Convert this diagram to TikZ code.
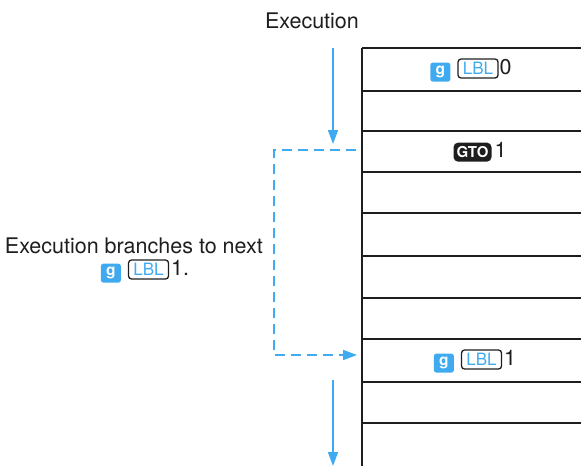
\documentclass[tikz,border=0pt]{standalone}
\usepackage{fontspec}
\setmainfont{TeX Gyre Heros}
\usetikzlibrary{arrows.meta}
\definecolor{hpblue}{RGB}{64,170,240}
\definecolor{ink}{RGB}{30,30,30}
\tikzset{
  rowline/.style={draw=ink, line width=1.5pt},
  flow/.style={draw=hpblue, line width=1.6pt, -{Triangle[length=14pt,width=10pt]}},
  dflow/.style={draw=hpblue, line width=1.6pt, dash pattern=on 10pt off 6pt},
  lbl/.style={font=\fontsize{21.5}{25}\selectfont, text=ink, inner sep=0pt},
  gkey/.style={fill=hpblue, rounded corners=2.5pt, text=white, minimum width=20pt, minimum height=19pt, inner sep=0pt, font=\fontsize{15.5}{15.5}\selectfont\bfseries},
  lblkey/.style={draw=ink, line width=1.3pt, rounded corners=3pt, text=hpblue, minimum width=40pt, minimum height=19pt, inner sep=0pt, font=\fontsize{17}{17}\selectfont},
  gtokey/.style={fill=ink, rounded corners=4.5pt, text=white, minimum width=38pt, minimum height=19pt, inner sep=0pt, font=\fontsize{15}{15}\selectfont\bfseries},
}
\newcommand{\gk}{\tikz[baseline=(k.base)]\node[gkey](k){g};}
\newcommand{\lk}{\tikz[baseline=(k.base)]\node[lblkey](k){LBL};}
\newcommand{\gtk}{\tikz[baseline=(k.base)]\node[gtokey](k){GTO};}
\begin{document}
\begin{tikzpicture}[x=1pt,y=-1pt]
\useasboundingbox (0,0) rectangle (581,466);
% table
\draw[rowline] (362,48) -- (362,466);
\foreach \yy in {48,91,131,172,213,256,298,339,382,423}{
  \draw[rowline] (362,\yy) -- (581,\yy);
}
% entries
\node[lbl] (r1) at (471,70) {\gk\hspace{7pt}\lk\hspace{1pt}0};
\node[lbl] (r3) at (480,152) {\gtk\hspace{3pt}1};
\node[lbl] (r8) at (475,361) {\gk\hspace{7pt}\lk\hspace{2pt}1};
% labels
\node[lbl] (exec) at (312,21) {Execution};
\node[lbl, anchor=east] (br1) at (263,246) {Execution branches to next};
\node[lbl] (br2) at (145,271) {\gk\hspace{7pt}\lk\hspace{2pt}1.};
% arrows
\coordinate (a1) at (333,48);
\coordinate (a2) at (333,144);
\draw[flow] (a1) -- (a2);
\coordinate (b1) at (333,380);
\coordinate (b2) at (333,466);
\draw[flow] (b1) -- (b2);
% dashed branch
\coordinate (d0) at (356,150);
\coordinate (d1) at (274,150);
\coordinate (d2) at (274,355);
\coordinate (d3) at (357,355);
\coordinate (d3a) at (342,355);
\draw[dflow] (d0) -- (d1) -- (d2) -- (d3a);
\draw[flow] (d3a) -- (d3);
\end{tikzpicture}
\end{document}
